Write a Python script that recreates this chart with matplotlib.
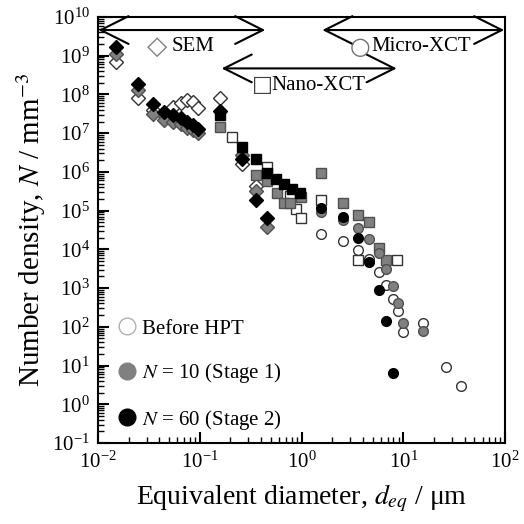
import numpy as np
import matplotlib
matplotlib.use("Agg")
import matplotlib.pyplot as plt
from matplotlib.ticker import LogLocator, LogFormatterMathtext, NullFormatter

plt.rcParams['font.family'] = ['Liberation Serif', 'DejaVu Sans']
plt.rcParams['mathtext.fontset'] = 'stix'

# SEM (diamonds)
sem_x_before = [0.015, 0.025, 0.035, 0.045, 0.055, 0.065, 0.075, 0.085, 0.095, 0.157, 0.26, 0.355]
sem_y_before = [7e8, 8e7, 4e7, 3e7, 4.7e7, 6e7, 7.2e7, 6.4e7, 4.5e7, 8e7, 1.6e6, 4.2e5]
sem_x_n10 = [0.015, 0.025, 0.035, 0.045, 0.055, 0.065, 0.075, 0.085, 0.095, 0.26, 0.355, 0.46]
sem_y_n10 = [1.1e9, 1.3e8, 3.2e7, 2.2e7, 1.9e7, 1.7e7, 1.4e7, 1.2e7, 1.0e7, 2.8e6, 3.2e5, 3.7e4]
sem_x_n60 = [0.015, 0.025, 0.035, 0.045, 0.055, 0.065, 0.075, 0.085, 0.095, 0.157, 0.26, 0.355, 0.46]
sem_y_n60 = [1.7e9, 1.9e8, 5.5e7, 3.5e7, 3.0e7, 2.5e7, 2.0e7, 1.6e7, 1.3e7, 3.7e7, 2.2e6, 1.9e5, 6.6e4]

# Nano-XCT (squares)
nano_x_before = [0.206, 0.46, 0.77, 0.89, 0.98, 1.55, 3.6, 8.7]
nano_y_before = [8.1e6, 1.3e6, 2.4e5, 1.07e5, 6.6e4, 1.9e5, 5.3e3, 5.3e3]
nano_x_n10 = [0.157, 0.36, 0.46, 0.57, 0.67, 0.77, 0.98, 1.55, 2.58, 3.6, 4.6, 5.7, 6.8]
nano_y_n10 = [1.45e7, 8.3e5, 5.9e5, 2.9e5, 1.55e5, 1.55e5, 2.2e5, 9.2e5, 1.6e5, 7.7e4, 5.2e4, 1.1e4, 5.3e3]
nano_x_n60 = [0.157, 0.26, 0.36, 0.46, 0.56, 0.67, 0.8, 0.97]
nano_y_n60 = [2.9e7, 4.5e6, 2.1e6, 9.2e5, 6.5e5, 4.8e5, 3.7e5, 2.8e5]

# Micro-XCT (circles)
micro_x_before = [1.55, 2.58, 3.6, 4.6, 5.7, 6.8, 7.9, 8.9, 9.9, 15.7, 26, 36.6]
micro_y_before = [2.5e4, 1.65e4, 9.6e3, 5.5e3, 2.6e3, 1.2e3, 510, 250, 72, 125, 9, 3]
micro_x_n10 = [1.55, 2.58, 3.6, 4.6, 5.7, 6.8, 7.9, 8.9, 9.9, 15.7]
micro_y_n10 = [9.3e4, 5.7e4, 3.6e4, 1.9e4, 7.9e3, 3.2e3, 1.1e3, 420, 124, 80]
micro_x_n60 = [1.55, 2.58, 3.6, 4.6, 5.8, 6.8, 7.9]
micro_y_n60 = [1.2e5, 6.7e4, 1.95e4, 4.6e3, 890, 140, 6.5]

labels = ['Before HPT', '$\\mathit{N}$ = 10 (Stage 1)', '$\\mathit{N}$ = 60 (Stage 2)']

open_style = dict(mfc='white', mec='#333333', mew=1.0, ls='none')
grey_style = dict(mfc='#808080', mec='#505050', mew=1.0, ls='none')
black_style = dict(mfc='black', mec='black', mew=1.0, ls='none')

fig = plt.figure(figsize=(5.24, 5.24), dpi=100)
ax = fig.add_axes([0.187, 0.1546, 0.777, 0.813])

ax.plot(sem_x_before, sem_y_before, 'D', ms=7, **open_style)
ax.plot(sem_x_n10, sem_y_n10, 'D', ms=7, **grey_style)
ax.plot(sem_x_n60, sem_y_n60, 'D', ms=7, **black_style)

ax.plot(nano_x_before, nano_y_before, 's', ms=6.5, **open_style)
ax.plot(nano_x_n10, nano_y_n10, 's', ms=6.5, **grey_style)
ax.plot(nano_x_n60, nano_y_n60, 's', ms=6.5, **black_style)

ax.plot(micro_x_before, micro_y_before, 'o', ms=7, **open_style)
ax.plot(micro_x_n10, micro_y_n10, 'o', ms=7, **grey_style)
ax.plot(micro_x_n60, micro_y_n60, 'o', ms=7, **black_style)

# legend handles (big circles)
h1, = ax.plot([], [], 'o', ms=12, mfc='white', mec='#b0b0b0', mew=1.0, ls='none')
h2, = ax.plot([], [], 'o', ms=12, mfc='#808080', mec='#808080', ls='none')
h3, = ax.plot([], [], 'o', ms=12, mfc='black', mec='black', ls='none')
ax.legend([h1, h2, h3], labels, loc='lower left', bbox_to_anchor=(0.0, -0.01),
          frameon=False, fontsize=15, handletextpad=0.05, labelspacing=1.08,
          handlelength=1.3, borderaxespad=0.35)

# measurement ranges
arrow = dict(arrowstyle='<->,head_length=1.0,head_width=0.5', color='black', lw=1.5,
             shrinkA=0, shrinkB=0, mutation_scale=20)
ax.annotate('', xy=(0.44, 4.6e9), xytext=(0.0101, 4.6e9), arrowprops=arrow)
ax.annotate('', xy=(98, 4.6e9), xytext=(1.6, 4.6e9), arrowprops=arrow)
ax.annotate('', xy=(8.6, 4.7e8), xytext=(0.164, 4.7e8), arrowprops=arrow)

ax.text(0.0305, 1.7e9, '\u25c7', color='#808080', fontsize=19, family='DejaVu Sans',
        ha='left', va='center')
ax.text(0.053, 1.7e9, 'SEM', fontsize=15, ha='left', va='center')
ax.text(3.0, 1.7e9, '\u25cb', color='#707070', fontsize=17, family='DejaVu Sans',
        ha='left', va='center')
ax.text(4.9, 1.7e9, 'Micro-XCT', fontsize=15, ha='left', va='center')
ax.text(0.325, 1.75e8, '\u25a1', color='#404040', fontsize=16, family='DejaVu Sans',
        ha='left', va='center')
ax.text(0.5, 1.75e8, 'Nano-XCT', fontsize=15, ha='left', va='center')

ax.set_xscale('log')
ax.set_yscale('log')
ax.set_xlim(1e-2, 1e2)
ax.set_ylim(1e-1, 1e10)

ax.xaxis.set_major_locator(LogLocator(base=10, numticks=20))
ax.yaxis.set_major_locator(LogLocator(base=10, numticks=20))
ax.xaxis.set_minor_locator(LogLocator(base=10, subs=np.arange(2, 10), numticks=100))
ax.yaxis.set_minor_locator(LogLocator(base=10, subs=np.arange(2, 10), numticks=100))
ax.xaxis.set_major_formatter(LogFormatterMathtext())
ax.yaxis.set_major_formatter(LogFormatterMathtext())
ax.xaxis.set_minor_formatter(NullFormatter())
ax.yaxis.set_minor_formatter(NullFormatter())
ax.tick_params(which='major', direction='in', length=8, width=1.5, labelsize=15,
               top=False, right=False, pad=6)
ax.tick_params(which='minor', direction='in', length=4, width=1.0, top=False, right=False)
for s in ax.spines.values():
    s.set_linewidth(1.5)

ax.set_xlabel('Equivalent diameter, $\\mathit{d}_{\\mathit{eq}}$ / \u03bcm', fontsize=20, labelpad=7)
ax.set_ylabel('Number density, $\\mathit{N}$ / mm$^{-3}$', fontsize=21, labelpad=3)

fig.savefig('out.png', dpi=100)
